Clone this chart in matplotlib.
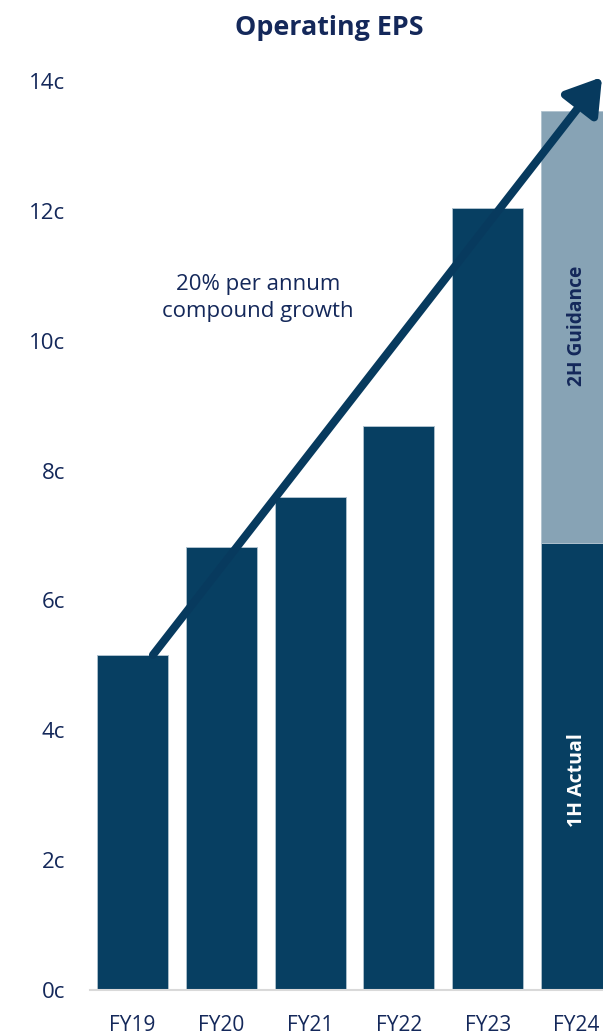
import matplotlib
matplotlib.use("Agg")
import matplotlib.pyplot as plt
from matplotlib.patches import FancyArrowPatch

plt.rcParams['font.family'] = ['Open Sans', 'DejaVu Sans']

categories = ["FY19", "FY20", "FY21", "FY22", "FY23", "FY24"]
actual = [5.16, 6.82, 7.59, 8.69, 12.04, 6.88]
guidance = [0, 0, 0, 0, 0, 6.66]
yticks = [0, 2, 4, 6, 8, 10, 12, 14]
ytick_labels = ["0c", "2c", "4c", "6c", "8c", "10c", "12c", "14c"]

dark = "#073F62"
light = "#87A3B5"
txt = "#14285A"

fig = plt.figure(figsize=(6.03, 10.34), dpi=100)
ax = fig.add_axes([90/603, 44/1034, 513/603, 941.5/1034])

x = list(range(len(categories)))
ax.bar(x, actual, width=0.8, color=dark, edgecolor="#B0C2CF", linewidth=0.6, zorder=2)
ax.bar(x, guidance, bottom=actual, width=0.8, color=light, edgecolor="#B0C2CF", linewidth=0.6, zorder=2)

ax.set_xlim(-0.479, 5.298)
ax.set_ylim(0, 14.5)
ax.set_yticks(yticks)
ax.set_yticklabels(ytick_labels, fontsize=16, color=txt)
ax.set_xticks(x)
ax.set_xticklabels(categories, fontsize=15, color=txt)
ax.tick_params(axis='both', length=0)
ax.tick_params(axis='y', pad=18)
ax.tick_params(axis='x', pad=18)
for s in ['top', 'right', 'left']:
    ax.spines[s].set_visible(False)
ax.spines['bottom'].set_color('#D9D9D9')
ax.spines['bottom'].set_linewidth(1.5)

arrow = FancyArrowPatch((0.23, 5.16), (5.287, 14.06), arrowstyle='-|>,head_length=1.5,head_width=0.95',
                        mutation_scale=14, color="#073A5E", linewidth=5.8, shrinkA=0, shrinkB=0,
                        zorder=4, clip_on=False)
ax.add_patch(arrow)

ax.text(1.41, 10.66, "20% per annum\ncompound growth", fontsize=16, color=txt,
        ha='center', va='center', linespacing=1.4, zorder=5)

ax.text(5.0, 10.23, "2H Guidance", rotation=90, fontsize=13.8,
        fontweight='bold', color=txt, ha='center', va='center', zorder=5)
ax.text(5.0, 3.23, "1H Actual", rotation=90, fontsize=14,
        fontweight='bold', color='white', ha='center', va='center', zorder=5)

fig.text(329/603, 1 - 28/1034, "Operating EPS", fontsize=19.4, fontweight='bold',
         color=txt, ha='center', va='center')

fig.savefig("out.png", dpi=100)
